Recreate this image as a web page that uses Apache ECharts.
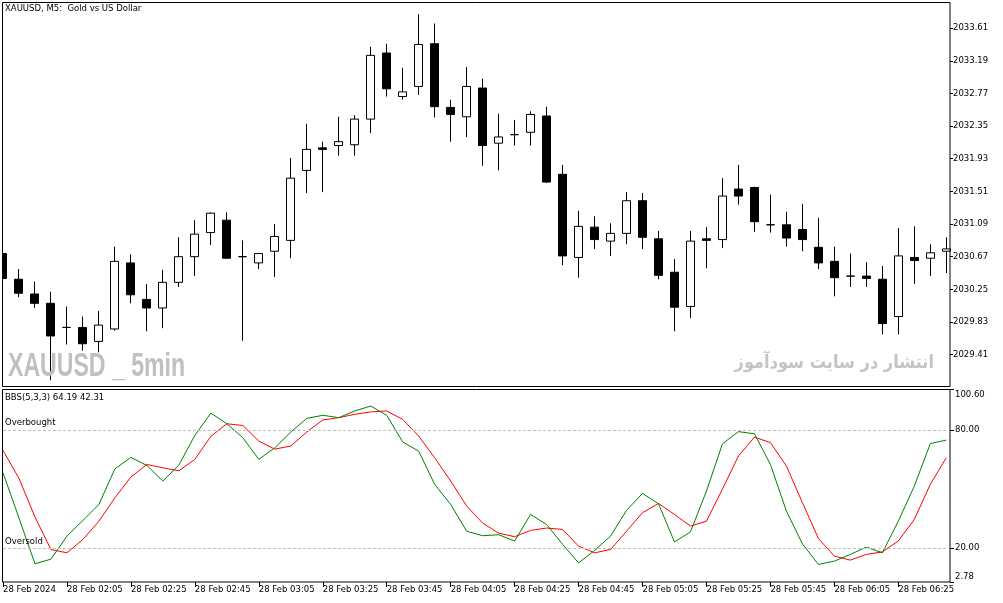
<!DOCTYPE html>
<html>
<head>
<meta charset="utf-8">
<title>XAUUSD M5</title>
<script src="https://cdn.jsdelivr.net/npm/echarts@6/dist/echarts.min.js"></script>
<style>
  html, body { margin: 0; padding: 0; background: #fff; }
  #chart { width: 1003px; height: 603px; }
</style>
</head>
<body>
<div id="chart"></div>
<script>
// 5 minute bars, 28 Feb 2024
const times = [
  '01:45', '01:50', '01:55', '02:00', '02:05', '02:10', '02:15', '02:20', '02:25', '02:30',
  '02:35', '02:40', '02:45', '02:50', '02:55', '03:00', '03:05', '03:10', '03:15', '03:20',
  '03:25', '03:30', '03:35', '03:40', '03:45', '03:50', '03:55', '04:00', '04:05', '04:10',
  '04:15', '04:20', '04:25', '04:30', '04:35', '04:40', '04:45', '04:50', '04:55', '05:00',
  '05:05', '05:10', '05:15', '05:20', '05:25', '05:30', '05:35', '05:40', '05:45', '05:50',
  '05:55', '06:00', '06:05', '06:10', '06:15', '06:20', '06:25', '06:30', '06:35', '06:40'
];

const opens = [
  2030.71, 2030.38, 2030.19, 2030.07, 2029.76, 2029.76, 2029.58, 2029.74, 2030.59, 2030.12,
  2030.01, 2030.34, 2030.67, 2030.98, 2031.14, 2030.67, 2030.59, 2030.74, 2030.88, 2031.78,
  2032.07, 2032.10, 2032.11, 2032.44, 2033.29, 2032.73, 2032.86, 2033.41, 2032.59, 2032.47,
  2032.84, 2032.13, 2032.24, 2032.27, 2032.48, 2031.73, 2030.66, 2031.05, 2030.87, 2030.97,
  2031.39, 2030.90, 2030.47, 2030.03, 2030.90, 2030.89, 2031.54, 2031.56, 2031.08, 2031.08,
  2031.02, 2030.79, 2030.61, 2030.42, 2030.42, 2030.38, 2029.90, 2030.66, 2030.65, 2030.74
];
const closes = [
  2030.39, 2030.20, 2030.07, 2029.65, 2029.76, 2029.55, 2029.79, 2030.61, 2030.18, 2030.01,
  2030.34, 2030.67, 2030.96, 2031.23, 2030.65, 2030.67, 2030.71, 2030.93, 2031.68, 2032.05,
  2032.05, 2032.15, 2032.44, 2033.26, 2032.83, 2032.79, 2033.40, 2032.60, 2032.50, 2032.86,
  2032.10, 2032.21, 2032.24, 2032.50, 2031.63, 2030.68, 2031.06, 2030.89, 2030.97, 2031.39,
  2030.92, 2030.43, 2030.02, 2030.87, 2030.88, 2031.45, 2031.45, 2031.12, 2031.08, 2030.91,
  2030.89, 2030.59, 2030.40, 2030.42, 2030.39, 2029.81, 2030.68, 2030.62, 2030.72, 2030.77
];
const lows = [
  2030.37, 2030.15, 2030.01, 2029.08, 2029.54, 2029.46, 2029.44, 2029.72, 2030.07, 2029.71,
  2029.75, 2030.28, 2030.42, 2030.82, 2030.64, 2029.59, 2030.51, 2030.41, 2030.65, 2031.49,
  2031.50, 2031.97, 2031.97, 2032.26, 2032.73, 2032.69, 2032.75, 2032.46, 2032.15, 2032.21,
  2031.84, 2031.78, 2032.10, 2032.10, 2031.62, 2030.56, 2030.40, 2030.77, 2030.68, 2030.83,
  2030.77, 2030.38, 2029.71, 2029.88, 2030.52, 2030.78, 2031.34, 2030.99, 2030.98, 2030.80,
  2030.74, 2030.51, 2030.16, 2030.28, 2030.28, 2029.67, 2029.67, 2030.32, 2030.42, 2030.46
];
const highs = [
  2030.75, 2030.51, 2030.35, 2030.22, 2030.03, 2029.90, 2029.97, 2030.80, 2030.70, 2030.32,
  2030.50, 2030.92, 2031.14, 2031.24, 2031.24, 2030.88, 2030.72, 2031.09, 2031.94, 2032.38,
  2032.15, 2032.47, 2032.49, 2033.37, 2033.41, 2033.10, 2033.79, 2033.67, 2032.69, 2033.11,
  2032.96, 2032.51, 2032.43, 2032.54, 2032.60, 2031.85, 2031.26, 2031.19, 2031.10, 2031.50,
  2031.49, 2031.00, 2030.64, 2031.00, 2031.05, 2031.68, 2031.85, 2031.57, 2031.47, 2031.25,
  2031.35, 2031.17, 2030.80, 2030.71, 2030.60, 2030.55, 2031.04, 2031.06, 2030.83, 2030.92
];

// BBS(5,3,3) main (green) and signal (red)
const bbsMain = [
  58.3, 35.3, 12.0, 14.4, 26.1, 34.1, 42.2, 60.3, 66.1, 62.0,
  54.1, 62.2, 77.3, 88.6, 83.2, 76.1, 65.1, 71.0, 79.0, 85.9,
  87.5, 86.3, 89.7, 92.2, 87.5, 73.9, 69.3, 52.4, 42.2, 28.6,
  26.3, 26.8, 23.6, 37.1, 32.0, 21.9, 12.5, 18.8, 26.1, 39.2,
  47.8, 42.5, 23.1, 28.3, 49.0, 73.0, 79.2, 78.1, 62.5, 38.8,
  22.2, 11.7, 13.4, 16.8, 20.5, 17.6, 33.7, 51.5, 73.1, 74.9
];
const bbsSignal = [
  69.7, 55.4, 35.8, 19.3, 17.6, 24.4, 33.7, 45.6, 56.1, 62.5,
  60.8, 59.3, 65.1, 76.8, 83.2, 82.3, 74.4, 70.3, 71.9, 79.0,
  85.1, 86.3, 88.0, 89.2, 89.7, 85.4, 76.9, 65.9, 54.1, 41.4,
  32.7, 27.6, 25.8, 29.0, 30.2, 29.5, 21.0, 17.6, 19.3, 28.6,
  38.0, 42.7, 37.1, 31.2, 33.7, 50.0, 66.8, 76.4, 73.6, 61.7,
  43.1, 24.9, 15.9, 13.9, 16.8, 18.1, 23.6, 34.6, 52.4, 65.9
];

const priceTicks = [2029.41, 2029.83, 2030.25, 2030.67, 2031.09, 2031.51, 2031.93, 2032.35, 2032.77, 2033.19, 2033.61];
const bbsTicks = [2.78, 20, 80, 100.6];
const levels = [80, 20];

const FONT = 'DejaVu Sans';
const FS = 8.5;

const chart = echarts.init(document.getElementById('chart'));
const candles = opens.map((o, i) => [o, closes[i], lows[i], highs[i]]);
const every4 = (i) => i % 4 === 0;

// bar k sits at x = 2.3 + 16k, the frame's right edge is at x = 950
const grids = [
  { left: 2.3, width: 944, top: 2.5, height: 384 },
  { left: 2.3, width: 944, top: 389.5, height: 192.5 }
];

const option = {
  animation: false,
  backgroundColor: '#fff',
  grid: grids,
  xAxis: [
    { type: 'category', gridIndex: 0, data: times, boundaryGap: false, show: false },
    {
      type: 'category', gridIndex: 1, data: times, boundaryGap: false,
      axisLine: { show: false },
      axisTick: { interval: every4, length: 5, lineStyle: { color: '#000' } },
      axisLabel: {
        interval: every4, align: 'left', margin: 3, color: '#000',
        fontFamily: FONT, fontSize: FS,
        formatter: (v, i) => (i === 0 ? '28 Feb 2024' : '28 Feb ' + v)
      }
    }
  ],
  yAxis: [
    {
      type: 'value', gridIndex: 0, position: 'right', offset: 3.7,
      min: 2029.00, max: 2033.94,
      splitLine: { show: false }, axisLine: { show: false },
      axisTick: { show: true, length: 3, customValues: priceTicks, lineStyle: { color: '#000' } },
      axisLabel: {
        customValues: priceTicks, margin: 3, color: '#000',
        fontFamily: FONT, fontSize: FS,
        formatter: (v) => v.toFixed(2)
      }
    },
    {
      type: 'value', gridIndex: 1, position: 'right', offset: 3.7,
      min: 2.78, max: 100.6,
      splitLine: { show: false }, axisLine: { show: false },
      axisTick: { show: true, length: 4, customValues: bbsTicks, lineStyle: { color: '#000' } },
      axisLabel: {
        customValues: bbsTicks, margin: 5, color: '#000',
        fontFamily: FONT, fontSize: FS,
        formatter: (v) => {
          if (v >= 100) return '{top|' + v.toFixed(2) + '}';
          if (v < 5) return '{bot|' + v.toFixed(2) + '}';
          return v.toFixed(2);
        },
        rich: {
          top: { padding: [10, 0, 0, 0], fontFamily: FONT, fontSize: FS, color: '#000' },
          bot: { padding: [0, 0, 11, 0], fontFamily: FONT, fontSize: FS, color: '#000' }
        }
      }
    }
  ],
  series: [
    {
      type: 'candlestick', xAxisIndex: 0, yAxisIndex: 0,
      data: candles, barWidth: 9, clip: false,
      itemStyle: { color: '#fff', color0: '#000', borderColor: '#000', borderColor0: '#000', borderWidth: 1 }
    },
    {
      type: 'line', xAxisIndex: 1, yAxisIndex: 1, data: bbsMain,
      showSymbol: false, symbol: 'none',
      lineStyle: { color: '#008000', width: 1 },
      markLine: {
        silent: true, symbol: ['none', 'none'], label: { show: false },
        lineStyle: { color: '#c0c0c0', type: [3, 2], width: 1 },
        data: levels.map((v) => ({ yAxis: v }))
      },
      z: 3
    },
    {
      type: 'line', xAxisIndex: 1, yAxisIndex: 1, data: bbsSignal,
      showSymbol: false, symbol: 'none',
      lineStyle: { color: '#ff0000', width: 1 },
      z: 2
    }
  ],
  graphic: [
    { type: 'rect', z: 90, silent: true, shape: { x: 0, y: 0, width: 2, height: 603 }, style: { fill: '#fff' } },
    { type: 'rect', z: 100, silent: true, shape: { x: 2.5, y: 2.5, width: 947.5, height: 384 }, style: { fill: null, stroke: '#000', lineWidth: 1 } },
    { type: 'rect', z: 100, silent: true, shape: { x: 2.5, y: 389.5, width: 947.5, height: 192.5 }, style: { fill: null, stroke: '#000', lineWidth: 1 } },
    { type: 'text', z: 100, x: 5, y: 4, style: { text: 'XAUUSD, M5:  Gold vs US Dollar', font: FS + 'px "' + FONT + '"', fill: '#000' } },
    { type: 'text', z: 100, x: 5, y: 393, style: { text: 'BBS(5,3,3) 64.19 42.31', font: FS + 'px "' + FONT + '"', fill: '#000' } },
    { type: 'text', z: 100, x: 5, y: 418, style: { text: 'Overbought', font: FS + 'px "' + FONT + '"', fill: '#000' } },
    { type: 'text', z: 100, x: 5, y: 537, style: { text: 'Oversold', font: FS + 'px "' + FONT + '"', fill: '#000' } },
    { type: 'text', z: 50, x: 8, y: 350, scaleX: 0.7, style: { text: 'XAUUSD _ 5min', font: 'bold 33px "Liberation Sans"', fill: '#c0c0c0' } },
    { type: 'text', z: 50, x: 934, y: 354, scaleX: 0.9, style: { text: 'انتشار در سایت سودآموز', font: 'bold 18px "DejaVu Sans"', fill: '#c4c4c4', align: 'right' } }
  ]
};

chart.setOption(option);
</script>
</body>
</html>
